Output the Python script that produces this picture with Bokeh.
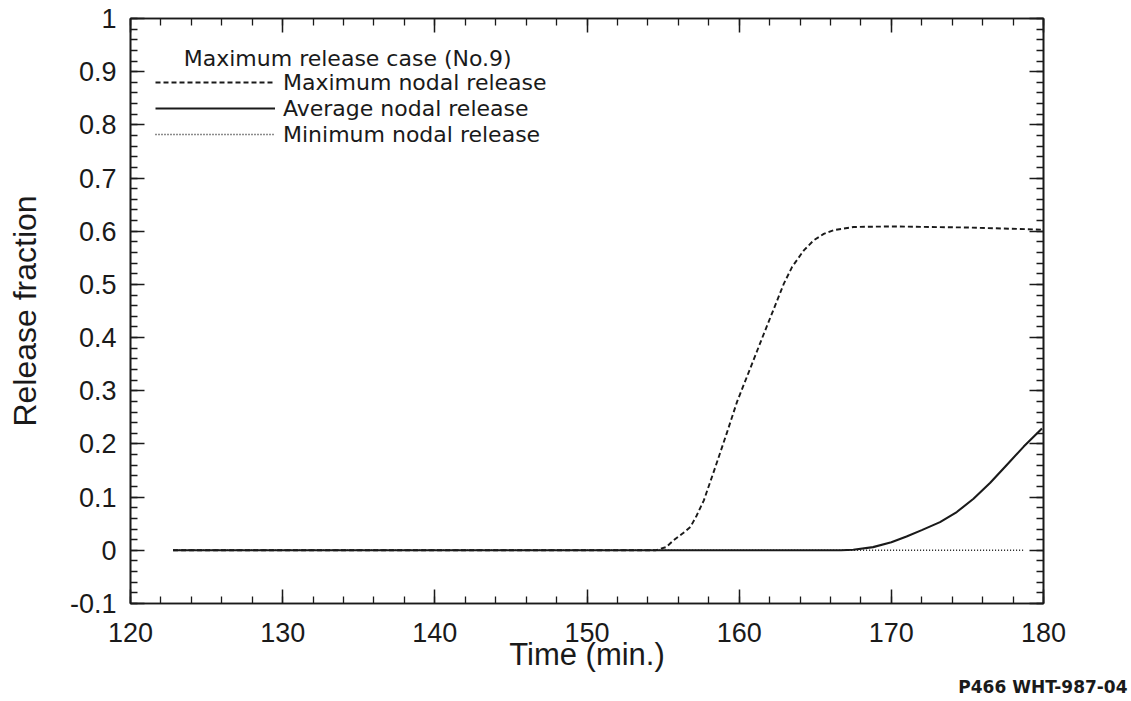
from bokeh.plotting import figure
from bokeh.models import (Range1d, LinearAxis, Legend, LegendItem, Label, Title,
                          SingleIntervalTicker, CustomJSTickFormatter)
from bokeh.embed import file_html
from bokeh.resources import INLINE

# ---- data ----
t_max = [122.8, 154.5, 155.2, 155.7, 156.3, 156.8, 157.2, 157.68, 158.44, 159.17,
         159.87, 160.74, 161.62, 162.5, 162.93, 163.48, 164.25, 164.9, 165.56,
         166.22, 167.53, 170.0, 175.0, 179.9]
v_max = [0.0, 0.0, 0.006, 0.019, 0.032, 0.044, 0.065, 0.094, 0.157, 0.219,
         0.280, 0.343, 0.407, 0.470, 0.501, 0.533, 0.564, 0.583, 0.595,
         0.602, 0.608, 0.609, 0.607, 0.603]

t_avg = [122.8, 150.0, 166.7, 167.5, 168.8, 170.0, 171.0, 172.0, 173.2, 174.3,
         175.4, 176.5, 177.6, 178.7, 179.9]
v_avg = [0.0, 0.0, 0.0, 0.001, 0.006, 0.015, 0.026, 0.038, 0.053, 0.072,
         0.097, 0.127, 0.161, 0.195, 0.229]

t_min = [122.8, 178.7]
v_min = [0.0, 0.0]

legend_title = "Maximum release case (No.9)"
series_labels = ["Maximum nodal release", "Average nodal release",
                 "Minimum nodal release"]
x_title = "Time (min.)"
y_title = "Release fraction"
figure_code = "P466 WHT-987-04"

FONT = "Liberation Sans"
LFONT = "DejaVu Sans"
INK = "#1a1a1a"

p = figure(width=1131, height=701, output_backend="svg", toolbar_location=None,
           x_range=Range1d(120, 180), y_range=Range1d(-0.1, 1.0),
           x_axis_location=None, y_axis_location=None,
           min_border_left=130, min_border_right=88,
           min_border_top=18, min_border_bottom=98)
p.background_fill_color = "white"
p.border_fill_color = "white"
p.grid.visible = False
p.outline_line_color = INK
p.outline_line_width = 1.6

blank = CustomJSTickFormatter(code="return '';")
yfmt = CustomJSTickFormatter(code="""
const v = Math.round(tick * 10) / 10;
if (v === 0) return '0';
if (Number.isInteger(v)) return v.toString();
return v.toFixed(1);
""")


def style_axis(ax, labels=True):
    ax.axis_line_color = INK
    ax.axis_line_width = 1.6
    ax.major_tick_in = 14
    ax.major_tick_out = 0
    ax.minor_tick_in = 7
    ax.minor_tick_out = 0
    ax.major_tick_line_color = INK
    ax.minor_tick_line_color = INK
    ax.major_tick_line_width = 1.5
    ax.minor_tick_line_width = 1.3
    ax.major_label_text_font = FONT
    ax.major_label_text_color = INK
    ax.major_label_text_font_size = "27px"
    if not labels:
        ax.formatter = blank
        ax.major_label_standoff = 0


xb = LinearAxis(ticker=SingleIntervalTicker(interval=10, num_minor_ticks=5))
style_axis(xb)
xb.major_label_standoff = 19
xb.axis_label = x_title
xb.axis_label_text_font = FONT
xb.axis_label_text_font_size = "31px"
xb.axis_label_text_font_style = "normal"
xb.axis_label_text_color = INK
xb.axis_label_standoff = -8
p.add_layout(xb, "below")

xt = LinearAxis(ticker=SingleIntervalTicker(interval=10, num_minor_ticks=5))
style_axis(xt, labels=False)
p.add_layout(xt, "above")

yl = LinearAxis(ticker=SingleIntervalTicker(interval=0.1, num_minor_ticks=5),
                formatter=yfmt)
style_axis(yl)
yl.major_label_standoff = 14
yl.axis_label = y_title
yl.axis_label_text_font = FONT
yl.axis_label_text_font_size = "32px"
yl.axis_label_text_font_style = "normal"
yl.axis_label_text_color = INK
yl.axis_label_standoff = 24
p.add_layout(yl, "left")

yr = LinearAxis(ticker=SingleIntervalTicker(interval=0.1, num_minor_ticks=5))
style_axis(yr, labels=False)
p.add_layout(yr, "right")

# ---- curves ----
r_min = p.line(t_min, v_min, line_color=INK, line_width=1.6, line_dash="1 2")
r_max = p.line(t_max, v_max, line_color=INK, line_width=1.9, line_dash="5 3")
r_avg = p.line(t_avg, v_avg, line_color=INK, line_width=2.1)

legend = Legend(items=[LegendItem(label=series_labels[0], renderers=[r_max]),
                       LegendItem(label=series_labels[1], renderers=[r_avg]),
                       LegendItem(label=series_labels[2], renderers=[r_min])],
                location=(25, 456), orientation="vertical",
                background_fill_alpha=0, border_line_alpha=0,
                glyph_width=120, glyph_height=26, label_height=26,
                label_standoff=8, spacing=0, padding=0, margin=0,
                label_text_font=LFONT, label_text_font_size="22px",
                label_text_color=INK)
p.add_layout(legend, "center")

p.add_layout(Label(x=123.5, y=0.925, text=legend_title, text_font=LFONT,
                   text_font_size="22px", text_color=INK,
                   text_baseline="middle", text_align="left"))

# figure code in the bottom margin, right-aligned near the page edge
p.add_layout(Title(text=figure_code, align="right", offset=-84, standoff=0,
                   text_font=LFONT, text_font_size="17px",
                   text_font_style="bold", text_color=INK), "below")

open("out.html", "w").write(file_html(p, INLINE))
